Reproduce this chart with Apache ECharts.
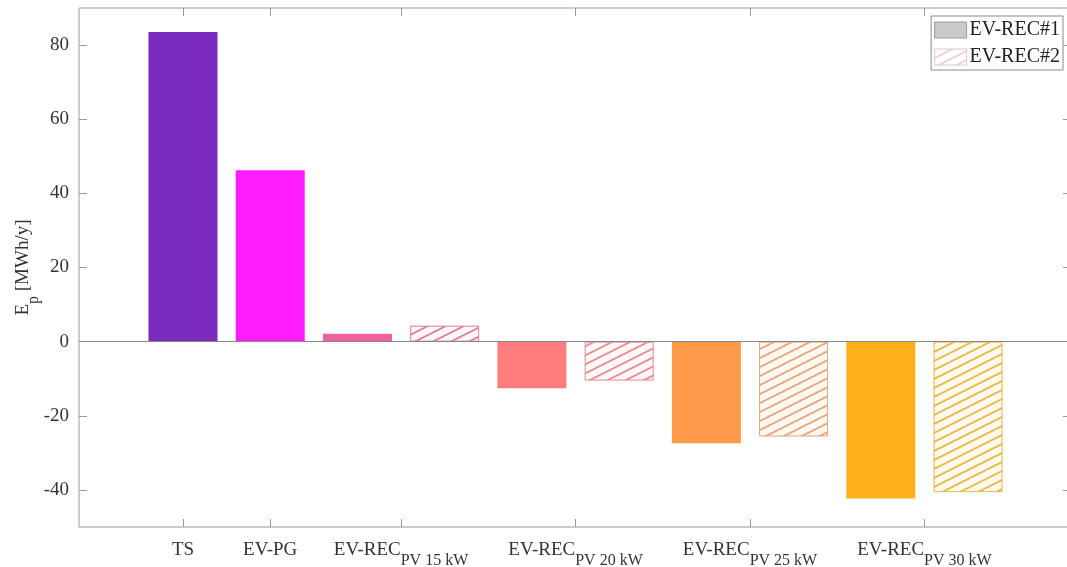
<!DOCTYPE html>
<html>
<head>
<meta charset="utf-8">
<script src="https://cdn.jsdelivr.net/npm/echarts@6/dist/echarts.min.js"></script>
<style>
  html, body { margin: 0; padding: 0; background: #fff; }
  #chart { width: 1067px; height: 567px; }
</style>
</head>
<body>
<div id="chart"></div>
<script>
// Annual energy balance per configuration (MWh/y)
const xTickPos = [1, 2, 3.5, 5.5, 7.5, 9.5];
const xTickLabels = ['{m|TS}', '{m|EV-PG}', '{m|EV-REC}{s|PV 15 kW}', '{m|EV-REC}{s|PV 20 kW}', '{m|EV-REC}{s|PV 25 kW}', '{m|EV-REC}{s|PV 30 kW}'];
const yTicks = [-40, -20, 0, 20, 40, 60, 80];

const basePos = [1, 2];
const baseValues = [83.5, 46.2];
const rec1Pos = [3, 5, 7, 9];
const rec1Values = [2.1, -12.6, -27.4, -42.3];
const rec2Pos = [4, 6, 8, 10];
const rec2Values = [4.3, -10.5, -25.6, -40.6];

const baseColors = ['#7b2bbd', '#ff1cff'];
const rec1Colors = ['#f45f9f', '#ff7d7d', '#ff9a4b', '#ffb11c'];
const rec2Stripe = ['#dc7c9c', '#e38a90', '#e3a47e', '#e3b846'];
const rec2Fill = ['#fff8fa', '#fff8f8', '#fff9f1', '#fffaee'];

const FONT = '"Liberation Serif", "DejaVu Serif", serif';

function hatch(stripe, fill) {
  const w = 18, h = 9;
  const c = document.createElement('canvas');
  c.width = w; c.height = h;
  const g = c.getContext('2d');
  g.fillStyle = fill;
  g.fillRect(0, 0, w, h);
  g.strokeStyle = stripe;
  g.lineWidth = 1.8;
  [-h, 0, h].forEach(function (d) {
    g.beginPath();
    g.moveTo(-w, 2 * h + d);
    g.lineTo(2 * w, -h + d);
    g.stroke();
  });
  return { image: c, repeat: 'repeat' };
}

const chart = echarts.init(document.getElementById('chart'), null, { renderer: 'canvas' });

const xRange = { min: -0.192, max: 11.18 };
const yRange = { min: -50, max: 90, interval: 10 };

const richLabel = {
  m: { fontSize: 19, fontFamily: FONT, color: '#333', verticalAlign: 'bottom', padding: [0, 0, 9, 0] },
  s: { fontSize: 16, fontFamily: FONT, color: '#333', verticalAlign: 'bottom' }
};

const tickStyle = { color: '#9a9a9a' };

chart.setOption({
  animation: false,
  backgroundColor: '#fff',
  grid: {
    left: 79, top: 8, right: -4, bottom: 40,
    outerBoundsMode: 'none',
    containLabel: false,
    show: true, borderColor: '#9a9a9a', borderWidth: 1, backgroundColor: 'transparent'
  },
  legend: {
    orient: 'vertical',
    right: 4, top: 16,
    backgroundColor: '#fff',
    borderColor: '#8a8a8a', borderWidth: 1,
    padding: [4, 3, 3, 3],
    itemWidth: 32, itemHeight: 16, itemGap: 7,
    icon: 'rect',
    textStyle: { fontFamily: FONT, fontSize: 20, color: '#222', padding: [0, 0, 0, -2] },
    data: [
      { name: 'EV-REC#1', itemStyle: { color: '#cacaca', borderColor: '#9a9a9a', borderWidth: 1 } },
      { name: 'EV-REC#2', itemStyle: { color: hatch('#e6d2d6', '#ffffff'), borderColor: '#e0c8cc', borderWidth: 1 } }
    ]
  },
  xAxis: [
    {
      type: 'value', position: 'bottom', min: xRange.min, max: xRange.max,
      splitLine: { show: false },
      axisLine: { show: false, onZero: false },
      axisTick: { show: true, inside: true, length: 8, customValues: xTickPos, lineStyle: tickStyle },
      axisLabel: {
        show: true, customValues: xTickPos, margin: 14,
        formatter: function (v) {
          for (let i = 0; i < xTickPos.length; i++) {
            if (Math.abs(xTickPos[i] - v) < 1e-6) return xTickLabels[i];
          }
          return '';
        },
        rich: richLabel
      }
    },
    {
      type: 'value', position: 'top', min: xRange.min, max: xRange.max,
      splitLine: { show: false },
      axisLine: { show: false, onZero: false },
      axisTick: { show: true, inside: true, length: 8, customValues: xTickPos, lineStyle: tickStyle },
      axisLabel: { show: false }
    }
  ],
  yAxis: [
    {
      type: 'value', position: 'left', min: yRange.min, max: yRange.max, interval: yRange.interval,
      splitLine: { show: false },
      axisLine: { show: false, onZero: false },
      axisTick: { show: true, inside: true, length: 8, customValues: yTicks, lineStyle: tickStyle },
      axisLabel: {
        customValues: yTicks, margin: 10,
        fontFamily: FONT, fontSize: 19, color: '#333'
      },
      name: '{m|E}{s|p}{m| [MWh/y]}',
      nameLocation: 'middle',
      nameRotate: 90,
      nameGap: 37,
      nameMoveOverlap: false,
      nameTextStyle: { rich: richLabel }
    },
    {
      type: 'value', position: 'right', min: yRange.min, max: yRange.max, interval: yRange.interval,
      splitLine: { show: false },
      axisLine: { show: false, onZero: false },
      axisTick: { show: true, inside: true, length: 8, customValues: yTicks, lineStyle: tickStyle },
      axisLabel: { show: false }
    }
  ],
  series: [
    {
      name: 'base', type: 'bar', barWidth: 69, barGap: '-100%',
      data: basePos.map(function (x, i) {
        return { value: [x, baseValues[i]], itemStyle: { color: baseColors[i] } };
      }),
      markLine: {
        silent: true, symbol: 'none', label: { show: false },
        lineStyle: { color: '#888', type: 'solid', width: 1 },
        data: [{ yAxis: 0 }]
      }
    },
    {
      name: 'EV-REC#1', type: 'bar', barWidth: 69, barGap: '-100%',
      data: rec1Pos.map(function (x, i) {
        return { value: [x, rec1Values[i]], itemStyle: { color: rec1Colors[i] } };
      })
    },
    {
      name: 'EV-REC#2', type: 'bar', barWidth: 69, barGap: '-100%',
      data: rec2Pos.map(function (x, i) {
        return {
          value: [x, rec2Values[i]],
          itemStyle: { color: hatch(rec2Stripe[i], rec2Fill[i]), borderColor: rec2Stripe[i], borderWidth: 1 }
        };
      })
    }
  ]
});
</script>
</body>
</html>
